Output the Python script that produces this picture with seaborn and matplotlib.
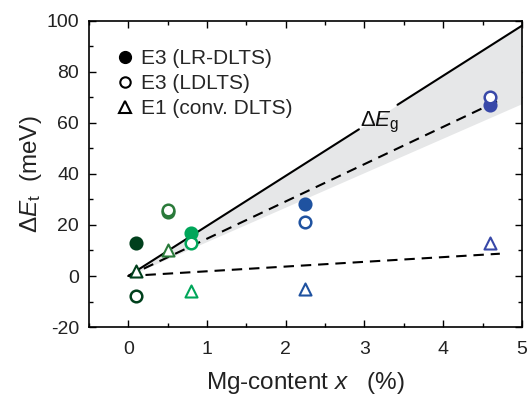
import numpy as np
import pandas as pd
import matplotlib
matplotlib.use("Agg")
import matplotlib.pyplot as plt
from matplotlib.lines import Line2D
import seaborn as sns

# ---- data ----
x_mg = [0.1, 0.5, 0.8, 2.25, 4.6]
colors = ['#00401c', '#2a7a3a', '#00a65a', '#1f52a0', '#3848a8']
e3_lr = [13, 25, 17, 28, 67]        # filled circles
e3_ld = [-8, 26, 13, 21, 70]        # open circles
e1_conv = [2, 10, -6, -5, 13]       # open triangles

slope_eg = 19.6        # meV per %
slope_eg_low = 13.5    # lower edge of shaded band
slope_e3 = 14.6
slope_e1 = 1.85
fit_xmax = 4.72
eg_gap = (2.93, 3.42)

sns.set_style("ticks")
plt.rcParams['font.family'] = ['Liberation Sans', 'DejaVu Sans']
plt.rcParams['mathtext.fontset'] = 'custom'
plt.rcParams['mathtext.rm'] = 'Liberation Sans'
plt.rcParams['mathtext.it'] = 'Liberation Sans:italic'
plt.rcParams['axes.unicode_minus'] = False

fig = plt.figure(figsize=(5.32, 3.96), dpi=100)
ax = fig.add_axes([0.167, 0.174, 0.814, 0.774])

# shaded band
xb = np.linspace(0, 5, 50)
ax.fill_between(xb, slope_eg_low * xb, slope_eg * xb, color='#e6e7e8', lw=0, zorder=1)

# Eg line (with gap for the label)
for xa, xe in [(0, eg_gap[0]), (eg_gap[1], 5)]:
    xs = np.array([xa, xe])
    sns.lineplot(x=xs, y=slope_eg * xs, ax=ax, color='black', lw=1.5, zorder=2)

xf = np.array([0, fit_xmax])
sns.lineplot(x=xf, y=slope_e3 * xf, ax=ax, color='black', lw=1.5, zorder=2,
             linestyle=(0, (5, 3.3)))
sns.lineplot(x=xf, y=slope_e1 * xf, ax=ax, color='black', lw=1.5, zorder=2,
             linestyle=(0, (5, 3.3)))

df = pd.DataFrame({'x': x_mg, 'c': colors, 'lr': e3_lr, 'ld': e3_ld, 'e1': e1_conv})
for _, r in df.iterrows():
    sns.scatterplot(x=[r.x], y=[r.lr], ax=ax, marker='o', s=75, color=r.c,
                    edgecolor=r.c, linewidth=1.5, zorder=3)
    sns.scatterplot(x=[r.x], y=[r.ld], ax=ax, marker='o', s=70, color='white',
                    edgecolor=r.c, linewidth=1.8, zorder=4)
    sns.scatterplot(x=[r.x], y=[r.e1], ax=ax, marker='^', s=75, color='white',
                    edgecolor=r.c, linewidth=1.5, zorder=4)

ax.text(3.19, 58.7, r'$\Delta E_\mathrm{g}$', fontsize=16, ha='center', va='baseline',
        zorder=5, color='#111111')

ax.set_xlim(-0.5, 5)
ax.set_ylim(-20, 100)
ax.set_xticks(range(0, 6))
ax.set_xticks(np.arange(-0.5, 5.01, 0.5), minor=True)
ax.set_yticks(range(-20, 101, 20))
ax.set_yticks(range(-20, 101, 10), minor=True)
ax.tick_params(which='both', direction='in', top=True, right=True, width=1.0,
               labelsize=14, color='black', labelcolor='#222222')
ax.tick_params(which='major', length=5)
ax.tick_params(which='minor', length=3)
ax.tick_params(axis='x', pad=10)
ax.tick_params(axis='y', pad=7)
for sp in ax.spines.values():
    sp.set_linewidth(1.2)
    sp.set_color('black')

ax.set_xlabel(r'Mg-content $x$   (%)', fontsize=17.5, labelpad=9, color='#222222')
ax.set_ylabel(r'$\Delta E_\mathrm{t}$  (meV)', fontsize=17.5, labelpad=1.5, color='#222222')

handles = [
    Line2D([], [], marker='o', ls='none', color='black', markersize=8.5),
    Line2D([], [], marker='o', ls='none', mfc='white', mec='black', mew=1.5, markersize=7.5),
    Line2D([], [], marker='^', ls='none', mfc='white', mec='black', mew=1.5, markersize=8),
]
labels = ['E3 (LR-DLTS)', 'E3 (LDLTS)', 'E1 (conv. DLTS)']
ax.legend(handles, labels, loc='upper left', frameon=False, fontsize=15,
          handletextpad=0.25, labelspacing=0.3, borderaxespad=0.0,
          bbox_to_anchor=(0.04, 0.935), handlelength=1.0)

fig.savefig('out.png', dpi=100)
